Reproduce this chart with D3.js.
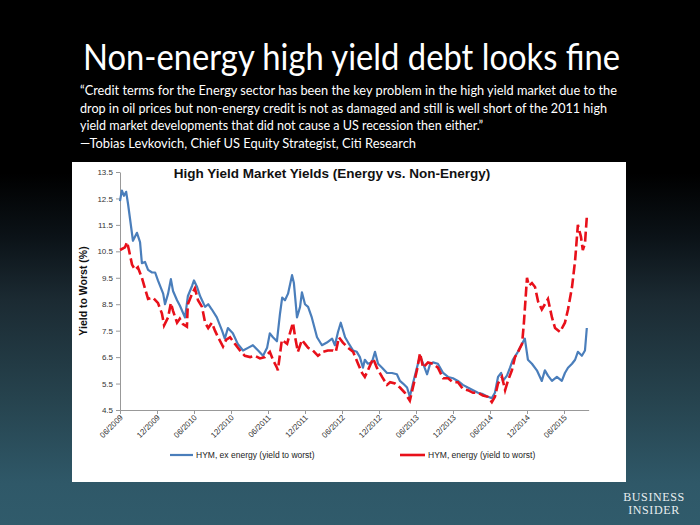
<!DOCTYPE html>
<html><head><meta charset="utf-8">
<script src="https://cdn.jsdelivr.net/npm/d3@7"></script>
<style>html,body{margin:0;padding:0;background:#000;overflow:hidden}</style>
</head><body>
<svg id="c" width="700" height="525"></svg>
<script>
// ---- data (x = months since June 2009) ----
const headline = "Non-energy high yield debt looks fine";
const quoteLines = [
  "\u201cCredit terms for the Energy sector has been the key problem in the high yield market due to the",
  "drop in oil prices but non-energy credit is not as damaged and still is well short of the 2011 high",
  "yield market developments that did not cause a US recession then either.\u201d",
  "\u2014Tobias Levkovich, Chief US Equity Strategist, Citi Research"
];
const chartTitle = "High Yield Market Yields (Energy vs. Non-Energy)";
const yAxisTitle = "Yield to Worst (%)";
const xTickMonths = [0,6,12,18,24,30,36,42,48,54,60,66,72];
const xTickLabels = ["06/2009","12/2009","06/2010","12/2010","06/2011","12/2011","06/2012","12/2012","06/2013","12/2013","06/2014","12/2014","06/2015"];
const yTicks = [4.5,5.5,6.5,7.5,8.5,9.5,10.5,11.5,12.5,13.5];
const seriesNames = ["HYM, ex energy (yield to worst)", "HYM, energy (yield to worst)"];

const exEnergy = [
 [0,12.4],[0.3,12.8],[0.65,12.6],[1.0,12.75],[1.3,12.3],[2.1,10.9],[2.75,11.2],[3.25,10.85],[3.55,10.05],
 [4.05,10.1],[4.55,9.8],[5.2,9.7],[5.7,9.7],[6.15,9.4],[7.0,8.9],[7.3,8.5],[7.8,8.9],[8.25,9.45],[8.6,9.0],
 [9.25,8.65],[9.7,8.45],[10.55,8.0],[11.0,8.8],[11.7,9.2],[12.0,9.4],[12.5,9.15],[13.0,8.8],[13.8,8.4],
 [14.3,8.5],[14.9,8.3],[15.7,8.0],[16.55,7.5],[17.0,7.2],[17.5,7.6],[18.3,7.4],[19.1,7.0],[19.95,6.75],
 [20.75,6.85],[21.55,6.95],[22.4,6.75],[23.2,6.55],[23.85,6.85],[24.3,7.4],[24.8,7.25],[25.45,7.1],
 [25.95,8.15],[26.3,8.75],[26.75,8.65],[27.25,8.9],[27.9,9.6],[28.2,9.3],[28.7,8.0],[29.2,8.4],[29.5,8.95],
 [30.0,8.5],[30.5,8.4],[31.1,8.0],[31.95,7.25],[32.75,6.95],[33.55,7.05],[34.4,7.2],[34.85,6.95],[35.35,7.45],
 [35.8,7.8],[36.5,7.25],[37.0,7.05],[37.8,6.75],[38.4,6.7],[38.9,6.5],[39.4,6.1],[39.7,6.4],[40.2,6.25],
 [40.85,6.3],[41.35,6.7],[41.85,6.25],[42.5,6.1],[43.3,5.9],[44.1,5.9],[44.9,5.85],[45.4,5.6],[45.9,5.5],
 [46.55,5.35],[47.0,5.0],[47.5,5.5],[48.15,6.1],[48.65,6.55],[49.15,6.25],[49.8,5.85],[50.3,6.25],[50.75,6.3],
 [51.55,6.25],[52.4,5.9],[53.2,5.75],[54.0,5.7],[54.8,5.6],[55.6,5.45],[56.4,5.35],[57.25,5.25],[58.05,5.15],
 [58.85,5.1],[59.65,5.0],[60.3,4.95],[60.8,5.15],[61.3,5.75],[61.8,5.9],[62.1,5.6],[62.75,5.8],[63.25,6.1],
 [63.7,6.4],[64.4,6.65],[64.85,6.85],[65.65,7.2],[66.15,6.4],[66.8,6.25],[67.6,6.0],[68.4,5.6],[68.9,6.0],
 [69.4,5.8],[70.05,5.6],[70.85,5.75],[71.65,5.6],[72.15,5.9],[72.65,6.1],[73.3,6.25],[73.8,6.4],[74.25,6.7],
 [74.9,6.55],[75.4,6.75],[75.7,7.6]
];
const energy = [
 [0,10.55],[0.8,10.65],[1.15,10.85],[1.45,10.55],[1.95,10.0],[2.45,9.8],[2.9,9.9],[3.55,9.5],[4.05,9.1],
 [4.55,8.7],[5.35,8.75],[6.15,8.55],[6.8,8.15],[7.15,7.7],[7.8,8.0],[8.25,8.55],[8.6,8.25],[9.25,7.8],
 [9.7,7.95],[10.2,7.75],[10.85,7.65],[11.0,8.5],[11.7,8.9],[12.15,9.1],[12.65,8.65],[13.3,8.4],[13.8,7.8],
 [14.3,7.6],[14.9,7.8],[15.4,7.5],[15.9,7.25],[16.7,6.9],[17.2,7.15],[17.85,7.25],[18.65,7.0],[19.45,6.75],
 [20.25,6.55],[21.1,6.5],[21.9,6.55],[22.7,6.45],[23.5,6.5],[24.3,6.7],[24.8,6.4],[25.45,6.1],[25.6,6.0],
 [26.25,7.15],[27.1,7.0],[27.55,7.4],[28.05,7.8],[28.4,7.25],[28.85,6.7],[29.5,7.15],[30.0,7.0],[30.5,6.85],
 [31.3,6.75],[32.1,6.55],[32.9,6.7],[33.7,6.75],[34.55,6.75],[35.0,6.7],[35.5,7.25],[36.15,7.05],[37.0,6.85],
 [37.8,6.7],[38.6,6.25],[39.25,5.9],[39.7,5.75],[40.2,6.0],[41.05,6.45],[41.65,6.1],[42.5,5.75],[43.3,5.45],
 [43.8,5.55],[44.6,5.5],[45.4,5.35],[46.2,5.15],[47.0,4.85],[47.5,5.35],[48.15,6.0],[48.65,6.65],[49.15,6.1],
 [49.95,6.3],[50.75,6.25],[51.55,6.1],[52.4,5.7],[53.2,5.7],[54.0,5.55],[54.8,5.55],[55.6,5.3],[56.4,5.25],
 [57.25,5.15],[58.05,5.15],[58.85,5.05],[59.65,5.0],[60.3,4.8],[60.8,5.0],[61.3,5.5],[61.95,5.75],[62.45,5.25],
 [62.9,5.6],[63.55,6.0],[64.05,6.5],[64.55,6.7],[65.2,7.0],[65.5,7.8],[66.0,9.5],[66.3,9.2],[66.8,9.3],
 [67.3,9.15],[67.8,8.6],[68.4,8.3],[68.9,8.5],[69.4,8.7],[70.05,8.0],[70.55,7.6],[71.35,7.45],[72.15,7.8],
 [72.65,8.3],[73.3,9.15],[73.8,10.15],[74.25,11.5],[74.75,11.05],[75.05,10.55],[75.4,10.8],[75.7,11.8]
];

// ---- drawing ----
const svg = d3.select("#c");
const defs = svg.append("defs");
const g = defs.append("linearGradient").attr("id","bg").attr("x1",0).attr("y1",0).attr("x2",0).attr("y2",1);
[[0,"#000"],[0.33,"#000"],[0.45,"#0b1217"],[0.57,"#1b2a32"],[0.76,"#26434e"],[0.92,"#2f5868"],[1,"#305b6b"]]
  .forEach(([o,c]) => g.append("stop").attr("offset",o).attr("stop-color",c));
svg.append("rect").attr("width",700).attr("height",525).attr("fill","url(#bg)");

const hfont = "Lato, 'Open Sans', sans-serif";
svg.append("text").attr("x",83).attr("y",70).attr("fill","#fff")
  .attr("font-family",hfont).attr("font-size",36)
  .attr("textLength",537).attr("lengthAdjust","spacingAndGlyphs").text(headline);

const qEnds = [617, 607, 483, 416];
quoteLines.forEach((t,i) => {
  svg.append("text").attr("x",80).attr("y",95 + i*17.5).attr("fill","#fff")
    .attr("font-family",hfont).attr("font-size",13.2)
    .attr("textLength",qEnds[i]-80).attr("lengthAdjust","spacingAndGlyphs").text(t);
});

// chart panel
svg.append("rect").attr("x",72).attr("y",162).attr("width",554).attr("height",320).attr("fill","#fff");

const x = d3.scaleLinear().domain([0,76]).range([120, 120 + 76*37/6]);
const y = d3.scaleLinear().domain([4.5,13.5]).range([410,172]);
const afont = "Arial, 'Liberation Sans', sans-serif";

svg.append("text").attr("x",332).attr("y",178).attr("text-anchor","middle")
  .attr("font-family",afont).attr("font-weight","bold").attr("font-size",13.5).attr("fill","#111")
  .text(chartTitle);

const yAxis = svg.append("g").attr("transform",`translate(${x(0)},0)`)
  .call(d3.axisLeft(y).tickValues(yTicks).tickFormat(d3.format(".1f")).tickSize(4).tickSizeOuter(0));
yAxis.select(".domain").attr("stroke","#999");
yAxis.selectAll(".tick line").attr("stroke","#999");
yAxis.selectAll("text").attr("font-family",afont).attr("font-size",8).attr("fill","#333").attr("x",-7);

const xAxis = svg.append("g").attr("transform",`translate(0,${y(4.5)})`)
  .call(d3.axisBottom(x).tickValues(xTickMonths).tickFormat((d,i)=>xTickLabels[i]).tickSize(4).tickSizeOuter(0));
xAxis.select(".domain").attr("stroke","#999");
xAxis.selectAll(".tick line").attr("stroke","#999");
xAxis.selectAll("text").attr("font-family",afont).attr("font-size",8).attr("fill","#333")
  .attr("text-anchor","end").attr("dy",0).attr("y",0)
  .attr("transform","translate(3,8) rotate(-45)");

svg.append("text").attr("transform",`translate(87,${(172+410)/2}) rotate(-90)`)
  .attr("text-anchor","middle").attr("font-family",afont).attr("font-weight","bold")
  .attr("font-size",10.5).attr("fill","#111").text(yAxisTitle);

const line = d3.line().x(d=>x(d[0])).y(d=>y(d[1]));
svg.append("path").datum(exEnergy).attr("d",line).attr("fill","none")
  .attr("stroke","#4a7ebb").attr("stroke-width",2.2).attr("stroke-linejoin","round");
svg.append("path").datum(energy).attr("d",line).attr("fill","none")
  .attr("stroke","#e8101a").attr("stroke-width",2.6).attr("stroke-dasharray","10,4");

// legend
const leg = [
  {x1:170, x2:193, color:"#4a7ebb", dash:null, w:2.2, name:seriesNames[0]},
  {x1:400, x2:425, color:"#e8101a", dash:null, w:2.6, name:seriesNames[1]}
];
leg.forEach(l => {
  svg.append("line").attr("x1",l.x1).attr("x2",l.x2).attr("y1",455).attr("y2",455)
    .attr("stroke",l.color).attr("stroke-width",l.w);
  svg.append("text").attr("x",l.x2+3).attr("y",458).attr("font-family",afont)
    .attr("font-size",8.5).attr("fill","#222").text(l.name);
});

// logo
["BUSINESS","INSIDER"].forEach((t,i) => {
  svg.append("text").attr("x",654).attr("y",501 + i*13).attr("text-anchor","middle")
    .attr("font-family","'Liberation Serif', 'DejaVu Serif', serif").attr("font-size",12)
    .attr("letter-spacing",0.6).attr("fill","#e8eef0").text(t);
});
</script>
</body></html>
